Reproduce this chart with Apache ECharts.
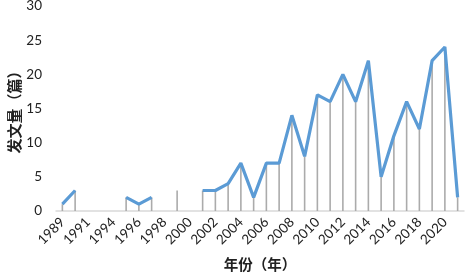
<!DOCTYPE html>
<html><head><meta charset="utf-8">
<script src="https://cdn.jsdelivr.net/npm/echarts@6/dist/echarts.min.js"></script>
<style>html,body{margin:0;padding:0;background:#fff}#c{width:466px;height:277px}</style>
</head><body><div id="c"></div>
<script>
const categories = ['1989','1990','1991','1993','1994','1995','1996','1997','1998','1999','2000','2001','2002','2003','2004','2005','2006','2007','2008','2009','2010','2011','2012','2013','2014','2015','2016','2017','2018','2019','2020','2021'];
const counts = [1,3,null,null,null,2,1,2,null,3,null,3,3,4,7,2,7,7,14,8,17,16,20,16,22,5,11,16,12,22,24,2];
const yTicks = {min:0, max:30, interval:5};
const numFont = 'Lato, "Noto Sans", sans-serif';
const cjkFont = '"Noto Sans CJK SC", sans-serif';
const chart = echarts.init(document.getElementById('c'));
chart.setOption({
  animation:false,
  grid:{left:56, right:2, top:6, bottom:66, containLabel:false, outerBoundsMode:'none'},
  xAxis:{
    type:'category', data:categories, boundaryGap:true,
    axisLine:{lineStyle:{color:'#D9D9D9', width:1.5}},
    axisTick:{show:false},
    axisLabel:{interval:1, rotate:45, color:'#222', fontFamily:numFont, fontSize:13.5, margin:9},
    name:'年份（年）', nameLocation:'middle', nameGap:46, nameMoveOverlap:false,
    nameTextStyle:{fontFamily:cjkFont, fontSize:14.5, fontWeight:'bold', color:'#222'}
  },
  yAxis:{
    type:'value', min:yTicks.min, max:yTicks.max, interval:yTicks.interval,
    axisLine:{show:false}, axisTick:{show:false}, splitLine:{show:false},
    axisLabel:{color:'#222', fontFamily:numFont, fontSize:13.5, margin:14},
    name:'发文量（篇）', nameLocation:'middle', nameGap:34, nameRotate:90, nameMoveOverlap:false,
    nameTextStyle:{fontFamily:cjkFont, fontSize:15, fontWeight:'bold', color:'#222'}
  },
  series:[
    {type:'bar', data:counts, barWidth:1.6, itemStyle:{color:'#ABABAB'}, z:1, silent:true},
    {type:'line', data:counts, showSymbol:false, symbol:'none', connectNulls:false,
     lineStyle:{color:'#5B9BD5', width:3.2}, z:3}
  ]
});
</script></body></html>
